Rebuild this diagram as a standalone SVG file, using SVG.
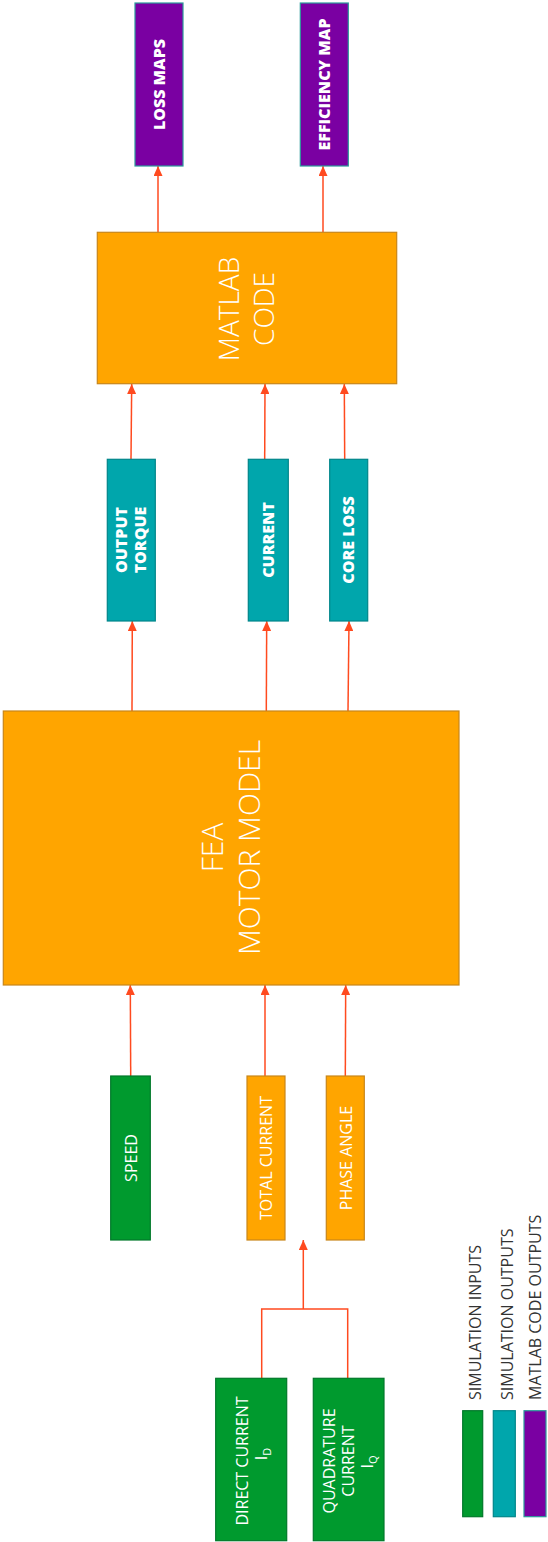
<svg xmlns="http://www.w3.org/2000/svg" width="548" height="1542" viewBox="0 0 548 1542">
<style>
.or{fill:#FFA500;stroke:#C8861A;stroke-width:1.2}
.gr{fill:#009A2E;stroke:#00782A;stroke-width:1.2}
.te{fill:#00A6AC;stroke:#00868A;stroke-width:1.2}
.pu{fill:#7A00A2;stroke:#2A9A9A;stroke-width:1.2}
.big{font-family:"Open Sans","Liberation Sans",sans-serif;font-weight:300;fill:#fff}
.bold{font-family:"Open Sans","Liberation Sans",sans-serif;font-weight:800;font-size:16px;fill:#fff}
.reg{font-family:"Open Sans","Liberation Sans",sans-serif;font-weight:400;font-size:16px;fill:#fff}
.leg{font-family:"Open Sans","Liberation Sans",sans-serif;font-weight:400;font-size:16px;fill:#333}
.c{fill:none;stroke:#FF4A1F;stroke-width:1.5}
</style>
<defs>
<marker id="ah" markerUnits="userSpaceOnUse" markerWidth="10" markerHeight="9" refX="10" refY="4.5" orient="auto" viewBox="0 0 10 9">
<path d="M0,0 L10,4.5 L0,9 z" fill="#FF4A1F"/>
</marker>
</defs>

<g id="connectors">
<line class="c" x1="158" y1="232" x2="158" y2="166" marker-end="url(#ah)"/>
<line class="c" x1="323" y1="232" x2="323" y2="166" marker-end="url(#ah)"/>
<line class="c" x1="131" y1="459" x2="131.7" y2="384" marker-end="url(#ah)"/>
<line class="c" x1="264.7" y1="459" x2="265" y2="384" marker-end="url(#ah)"/>
<line class="c" x1="344.7" y1="459" x2="344.3" y2="384" marker-end="url(#ah)"/>
<line class="c" x1="132" y1="711" x2="132.3" y2="621" marker-end="url(#ah)"/>
<line class="c" x1="266.3" y1="711" x2="266.7" y2="621" marker-end="url(#ah)"/>
<line class="c" x1="348" y1="711" x2="349" y2="621" marker-end="url(#ah)"/>
<line class="c" x1="130.7" y1="1076" x2="130.3" y2="985" marker-end="url(#ah)"/>
<line class="c" x1="265" y1="1076" x2="265" y2="985" marker-end="url(#ah)"/>
<line class="c" x1="345.3" y1="1076" x2="345.7" y2="985" marker-end="url(#ah)"/>
<polyline class="c" points="261.7,1378 261.7,1309 347.7,1309 347.7,1378"/>
<line class="c" x1="303.3" y1="1309" x2="303.3" y2="1240" marker-end="url(#ah)"/>
</g>

<g id="loss-maps">
<rect class="pu" x="135" y="3" width="48" height="163"/>
<text class="bold" text-anchor="middle" transform="translate(159,84.5) rotate(-90)"><tspan x="0" y="5.5">LOSS MAPS</tspan></text>
</g>
<g id="efficiency-map">
<rect class="pu" x="300.3" y="3" width="48" height="163"/>
<text class="bold" text-anchor="middle" transform="translate(324.3,84.5) rotate(-90)"><tspan x="0" y="5.5">EFFICIENCY MAP</tspan></text>
</g>

<g id="matlab-code">
<rect class="or" x="97.3" y="232.3" width="299.4" height="151.4"/>
<text class="big" font-size="28" text-anchor="middle" transform="translate(247,309) rotate(-90)"><tspan x="0" y="-8.3">MATLAB</tspan><tspan x="0" y="27.3">CODE</tspan></text>
</g>

<g id="output-torque">
<rect class="te" x="107.3" y="459.3" width="48" height="161.7"/>
<text class="bold" text-anchor="middle" transform="translate(131.3,540) rotate(-90)"><tspan x="0" y="-4.5">OUTPUT</tspan><tspan x="0" y="14.5">TORQUE</tspan></text>
</g>
<g id="current">
<rect class="te" x="248.3" y="459.3" width="40" height="161.7"/>
<text class="bold" text-anchor="middle" transform="translate(268.3,540) rotate(-90)"><tspan x="0" y="6">CURRENT</tspan></text>
</g>
<g id="core-loss">
<rect class="te" x="329.7" y="459.3" width="38" height="161.7"/>
<text class="bold" text-anchor="middle" transform="translate(348.7,540) rotate(-90)"><tspan x="0" y="5.5">CORE LOSS</tspan></text>
</g>

<g id="fea-motor-model">
<rect class="or" x="3.3" y="711" width="455.7" height="274"/>
<text class="big" font-size="30" text-anchor="middle" transform="translate(231,847.5) rotate(-90)"><tspan x="0" y="-8">FEA</tspan><tspan x="0" y="29">MOTOR MODEL</tspan></text>
</g>

<g id="speed">
<rect class="gr" x="110.7" y="1076" width="39.6" height="164"/>
<text class="reg" text-anchor="middle" transform="translate(130.5,1158) rotate(-90)"><tspan x="0" y="6">SPEED</tspan></text>
</g>
<g id="total-current">
<rect class="or" x="247" y="1076" width="38" height="164"/>
<text class="reg" text-anchor="middle" transform="translate(266,1158) rotate(-90)"><tspan x="0" y="5.7">TOTAL CURRENT</tspan></text>
</g>
<g id="phase-angle">
<rect class="or" x="326.3" y="1076" width="38" height="164"/>
<text class="reg" text-anchor="middle" transform="translate(345.3,1158) rotate(-90)"><tspan x="0" y="6.5">PHASE ANGLE</tspan></text>
</g>

<g id="direct-current">
<rect class="gr" x="215.7" y="1378.3" width="71" height="162.4"/>
<text class="reg" text-anchor="middle" transform="translate(251.2,1461) rotate(-90)"><tspan x="0" y="-3">DIRECT CURRENT</tspan><tspan x="7" y="16">I<tspan font-size="11" dy="4">D</tspan></tspan></text>
</g>
<g id="quadrature-current">
<rect class="gr" x="313.3" y="1378.3" width="70.7" height="162.4"/>
<text class="reg" text-anchor="middle" transform="translate(348.7,1461) rotate(-90)"><tspan x="0" y="-13.7">QUADRATURE</tspan><tspan x="0" y="5.3">CURRENT</tspan><tspan x="-1" y="24">I<tspan font-size="11" dy="4">Q</tspan></tspan></text>
</g>

<g id="legend">
<rect class="gr" x="462.7" y="1410.7" width="20" height="106"/>
<rect class="te" x="493.3" y="1410.7" width="22" height="106"/>
<rect class="pu" x="524" y="1410.7" width="22" height="106"/>
<text class="leg" transform="translate(481,1400) rotate(-90)">SIMULATION INPUTS</text>
<text class="leg" transform="translate(513,1400) rotate(-90)">SIMULATION OUTPUTS</text>
<text class="leg" transform="translate(541,1400) rotate(-90)">MATLAB CODE OUTPUTS</text>
</g>
</svg>
